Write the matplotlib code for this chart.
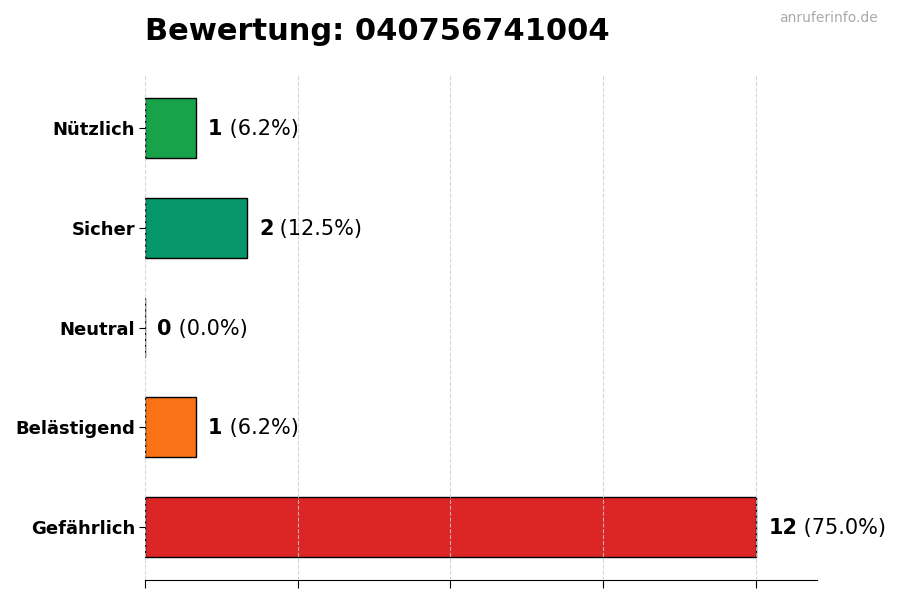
import matplotlib
matplotlib.use("Agg")
import matplotlib.pyplot as plt

categories = ["Gefährlich", "Belästigend", "Neutral", "Sicher", "Nützlich"]
counts = [12, 1, 0, 2, 1]
colors = ["#dc2626", "#f97316", "#6b7280", "#059669", "#16a34a"]
title = "Bewertung: 040756741004"
watermark = "anruferinfo.de"
xticks = [0, 3, 6, 9, 12]

total = sum(counts)

fig = plt.figure(figsize=(9, 6), dpi=100)
ax = fig.add_axes([0.161, 0.0333, 0.747, 0.8417])

ypos = list(range(len(categories)))
ax.barh(ypos, counts, height=0.6, color=colors, edgecolor="black", linewidth=1, zorder=2)

ax.set_yticks(ypos)
ax.set_yticklabels(categories, fontsize=13, fontweight="bold")
ax.set_xticks(xticks)
ax.set_xticklabels([])
ax.set_xlim(0, max(counts) * 1.1)
ax.grid(axis="x", linestyle="--", color="#cccccc", linewidth=0.8, alpha=0.8, zorder=3)
ax.set_axisbelow(False)
for s in ["top", "right", "left"]:
    ax.spines[s].set_visible(False)
ax.tick_params(axis="x", length=6)
ax.tick_params(axis="y", length=4, pad=3)

off = max(counts) * 0.02
fig.canvas.draw()
for y, c in zip(ypos, counts):
    pct = 100.0 * c / total
    t1 = ax.text(c + off, y - 0.01, f"{c}", fontsize=15, fontweight="bold", va="center", ha="left")
    ax.annotate(f" ({pct:.1f}%)", xy=(1, 0.5), xycoords=t1, va="center", ha="left", fontsize=15)

fig.text(0.161, 0.947, title, fontsize=22, fontweight="bold", ha="left", va="center")
fig.text(0.975, 0.970, watermark, fontsize=10, color="#aaaaaa", ha="right", va="center")

fig.savefig("out.png", dpi=100)
